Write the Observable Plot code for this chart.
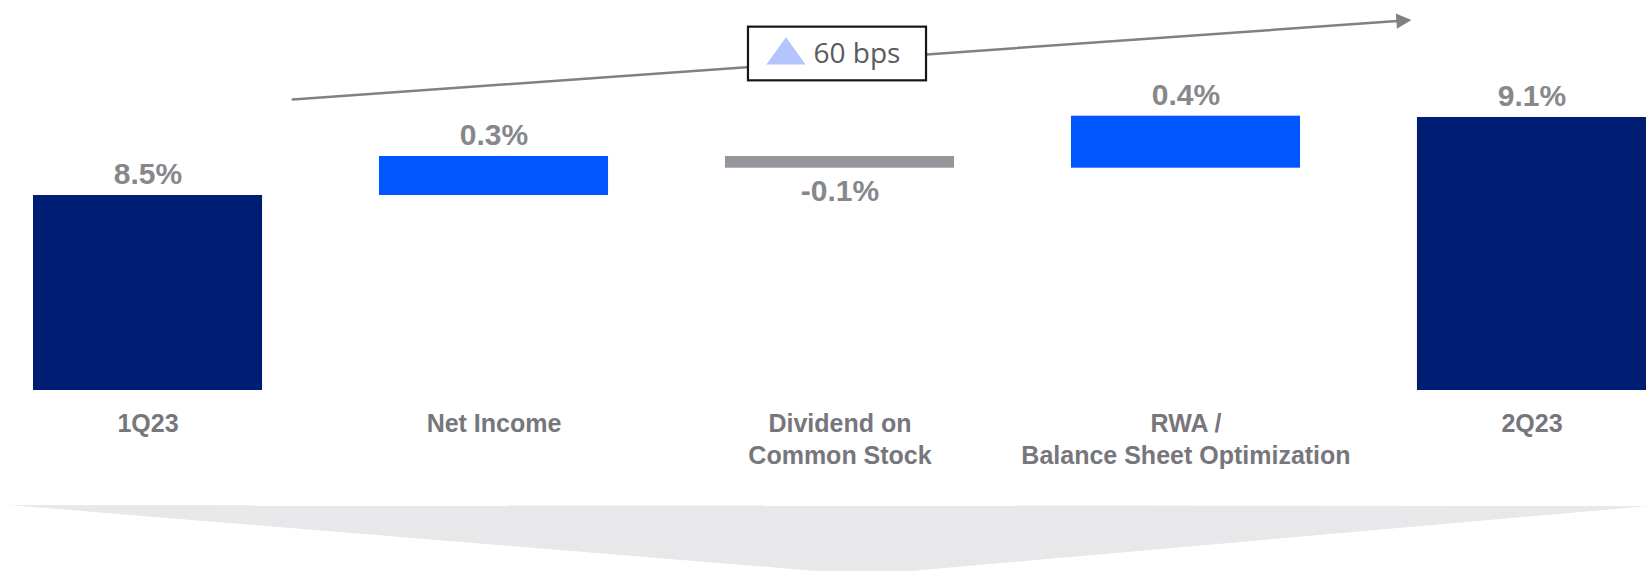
<!DOCTYPE html>
<html>
<head>
<meta charset="utf-8">
<script src="https://cdn.jsdelivr.net/npm/d3@7"></script>
<script src="https://cdn.jsdelivr.net/npm/@observablehq/plot@0.6"></script>
<style>
  html, body { margin: 0; padding: 0; background: #fff; }
  #chart svg { display: block; }
  #chevron { width: 1648px; height: 66px; background: #e8e8ea;
    clip-path: polygon(8px 0, 1648px 1px, 866px 70px); }
</style>
</head>
<body>
<div id="chart"></div>
<div id="chevron"></div>
<script>
// ---- data ----
const categories = ["1Q23", "Net Income", "Dividend on Common Stock", "RWA / Balance Sheet Optimization", "2Q23"];
const tickLabels = ["1Q23", "Net Income", "Dividend on\nCommon Stock", "RWA /\nBalance Sheet Optimization", "2Q23"];
const values = [8.5, 0.3, -0.09, 0.4, 9.1];
const kinds = ["total", "change", "change", "change", "total"];
const yFloor = 7;
const yCeil = 10;

// annotation (trend arrow and change box)
const arrowFrom = "1Q23";
const arrowTo = "2Q23";
const arrowY = [9.1595, 9.916];
const arrowHeadY = 9.846;
const boxAt = "Dividend on Common Stock";
const boxY = [9.382, 9.795];
const boxTextY = 9.588;
const boxTriY = 9.613;

// ---- build rows ----
let running = 0;
const rows = categories.map((c, i) => {
  const v = values[i];
  let y1, y2, type;
  if (kinds[i] === "total") { y1 = yFloor; y2 = v; running = v; type = "total"; }
  else { y1 = running; y2 = running + v; running = y2; type = v >= 0 ? "increase" : "decrease"; }
  return { category: c, bottom: Math.min(y1, y2), top: Math.max(y1, y2), value: v, type, label: v.toFixed(1) + "%" };
});
const bps = Math.round((values[4] - values[0]) * 100);
const arrowData = [{ from: arrowFrom, to: arrowTo, y1: arrowY[0], y2: arrowY[1], headY: arrowHeadY }];
const boxData = [{ at: boxAt, y1: boxY[0], y2: boxY[1], textY: boxTextY, triY: boxTriY, text: bps + " bps" }];

function triangleSymbol(aspect) {
  return { draw(ctx, size) {
    const r = Math.sqrt(size / Math.PI);
    ctx.moveTo(0, -r * aspect);
    ctx.lineTo(r, r * aspect);
    ctx.lineTo(-r, r * aspect);
    ctx.closePath();
  } };
}

const font = "Liberation Sans, Arial, sans-serif";
const plot = Plot.plot({
  width: 1648, height: 505,
  marginTop: 0, marginBottom: 115, marginLeft: 33, marginRight: 2,
  style: { fontFamily: font, background: "white" },
  x: { domain: categories, paddingInner: 0.338, paddingOuter: 0, round: false, axis: null, label: null },
  y: { domain: [yFloor, yCeil], axis: null },
  color: { domain: ["total", "increase", "decrease"], range: ["#001d74", "#0057ff", "#95959b"] },
  marks: [
    Plot.barY(rows, { x: "category", y1: "bottom", y2: "top", fill: "type" }),
    Plot.text(rows.filter(d => d.value >= 0), { x: "category", y: "top", text: "label", lineAnchor: "bottom", dy: -11.5, fontSize: 30, fontWeight: "bold", fill: "#87878c", fontFamily: font }),
    Plot.text(rows.filter(d => d.value < 0), { x: "category", y: "bottom", text: "label", lineAnchor: "top", dy: 11.5, fontSize: 30, fontWeight: "bold", fill: "#87878c", fontFamily: font }),
    Plot.axisX({ tickSize: 0, tickPadding: 19, fontSize: 25, fontWeight: "bold", fill: "#76767c", lineHeight: 1.28, label: null, tickFormat: d => tickLabels[categories.indexOf(d)] }),
    Plot.arrow(arrowData, { x1: "from", x2: "to", y1: "y1", y2: "y2", insetStart: 145, insetEnd: 128, headLength: 0, stroke: "#808085", strokeWidth: 2.5 }),
    Plot.dot(arrowData, { x: "to", y: "headY", dx: -128.1, symbol: triangleSymbol(0.98), r: 7.65, rotate: 85.94, fill: "#808085", stroke: "none" }),
    Plot.barY(boxData, { x: "at", y1: "y1", y2: "y2", insetLeft: 23, insetRight: 28, fill: "white", stroke: "#151515", strokeWidth: 2.2 }),
    Plot.dot(boxData, { x: "at", y: "triY", dx: -54, symbol: triangleSymbol(0.695), r: 19.65, fill: "#b4c4fc", stroke: "none" }),
    Plot.text(boxData, { x: "at", y: "textY", text: "text", dx: -26.5, textAnchor: "start", fontSize: 28, fontFamily: "Open Sans", fill: "#5a5a5f" })
  ]
});
document.getElementById("chart").appendChild(plot);
</script>
</body>
</html>
